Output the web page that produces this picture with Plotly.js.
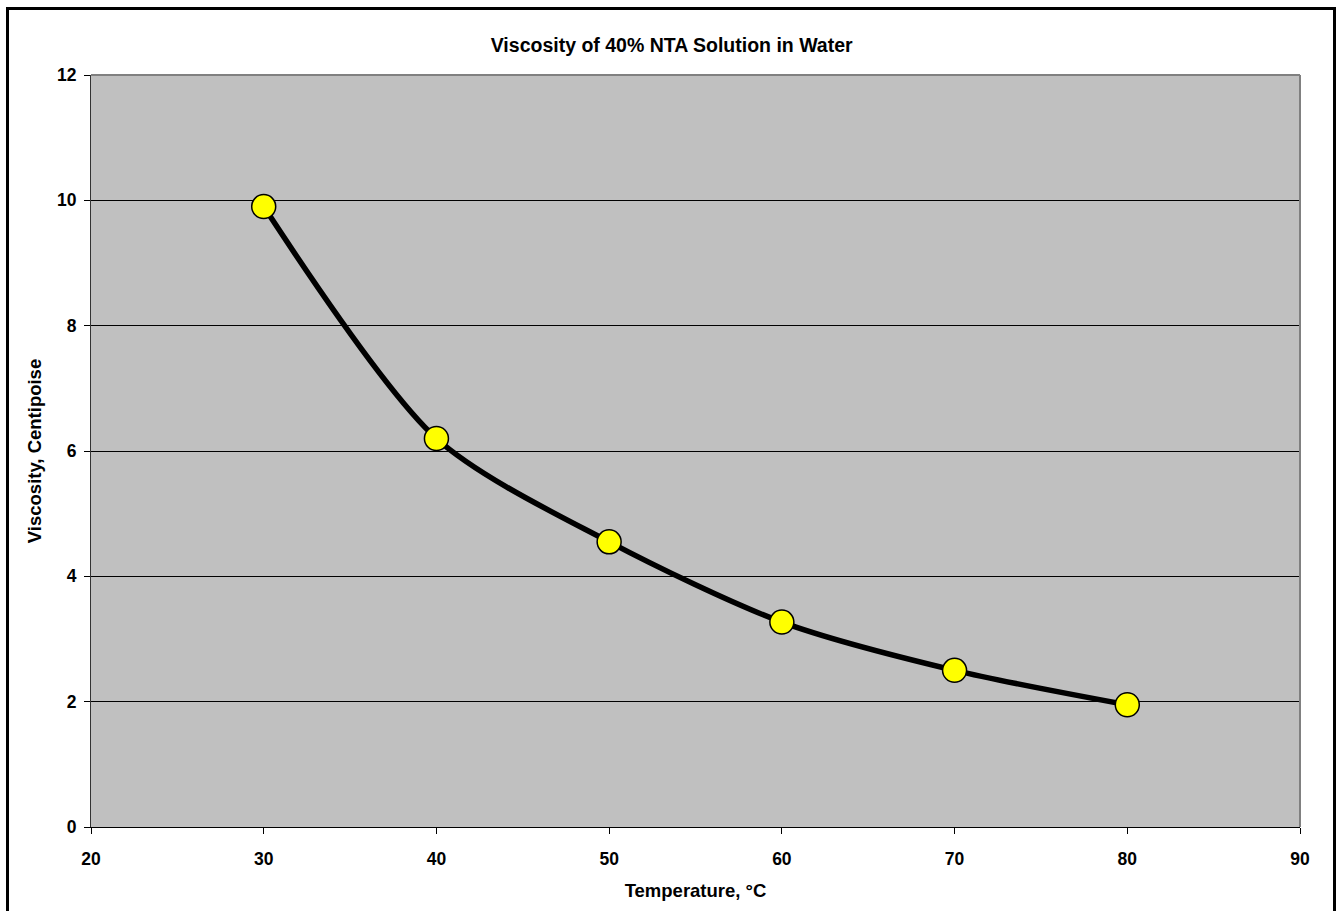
<!DOCTYPE html>
<html><head><meta charset="utf-8">
<script src="https://cdn.plot.ly/plotly-3.0.1.min.js"></script>
<style>body{margin:0;padding:0;overflow:hidden;background:#fff}#c{width:1338px;height:911px}
#b{position:absolute;left:6px;top:7px;width:1330px;height:910px;border:3px solid #000;pointer-events:none;box-sizing:border-box}</style>
</head><body><div id="c"></div><div id="b"></div>
<script>
const temperature = [30, 40, 50, 60, 70, 80];
const viscosity = [9.9, 6.2, 4.55, 3.27, 2.5, 1.95];
const xTicks = [20, 30, 40, 50, 60, 70, 80, 90];
const yTicks = [0, 2, 4, 6, 8, 10, 12];
const fnt = 'Liberation Sans, Arial, sans-serif';
Plotly.newPlot('c', [{
  x: temperature, y: viscosity, type: 'scatter', mode: 'lines+markers',
  line: {color: '#000', width: 5.5, shape: 'spline', smoothing: 0.8},
  marker: {color: '#ffff00', size: 24, line: {color: '#000', width: 1.5}},
  hoverinfo: 'none'
}], {
  width: 1338, height: 911,
  margin: {l: 91, r: 38, t: 75, b: 84},
  paper_bgcolor: '#fff', plot_bgcolor: '#c0c0c0',
  showlegend: false,
  title: {text: '<b>Viscosity of 40% NTA Solution in Water</b>', x: 0.502, xref: 'container', xanchor: 'center', y: 0.95, yref: 'container', yanchor: 'middle', font: {family: fnt, size: 19.5, color: '#000'}},
  xaxis: {range: [20, 90], tickvals: xTicks, ticktext: xTicks.map(v => '<b>' + v + '</b>'),
    ticks: 'outside', ticklen: 6, tickcolor: '#000', showgrid: false, zeroline: false,
    showline: true, linecolor: '#000', linewidth: 1, mirror: false, ticklabelstandoff: 10,
    tickfont: {family: fnt, size: 17.5, color: '#000'},
    title: {text: '<b>Temperature, °C</b>', font: {family: fnt, size: 18.5, color: '#000'}, standoff: 16}},
  yaxis: {range: [0, 12], tickvals: yTicks, ticktext: yTicks.map(v => '<b>' + v + '</b>'),
    ticks: 'outside', ticklen: 6, tickcolor: '#000', showgrid: true, gridcolor: '#000', gridwidth: 1, zeroline: false,
    showline: true, linecolor: '#333', linewidth: 1, ticklabelstandoff: 4,
    tickfont: {family: fnt, size: 17.5, color: '#000'},
    title: {text: '<b>Viscosity, Centipoise</b>', font: {family: fnt, size: 18.5, color: '#000'}, standoff: 10}},
  shapes: [
    {type: 'line', xref: 'paper', yref: 'paper', x0: 0, x1: 1, y0: 1, y1: 1, line: {color: '#808080', width: 2}},
    {type: 'line', xref: 'paper', yref: 'paper', x0: 1, x1: 1, y0: 0, y1: 1, line: {color: '#808080', width: 2}}
  ]
}, {staticPlot: true});
</script></body></html>
